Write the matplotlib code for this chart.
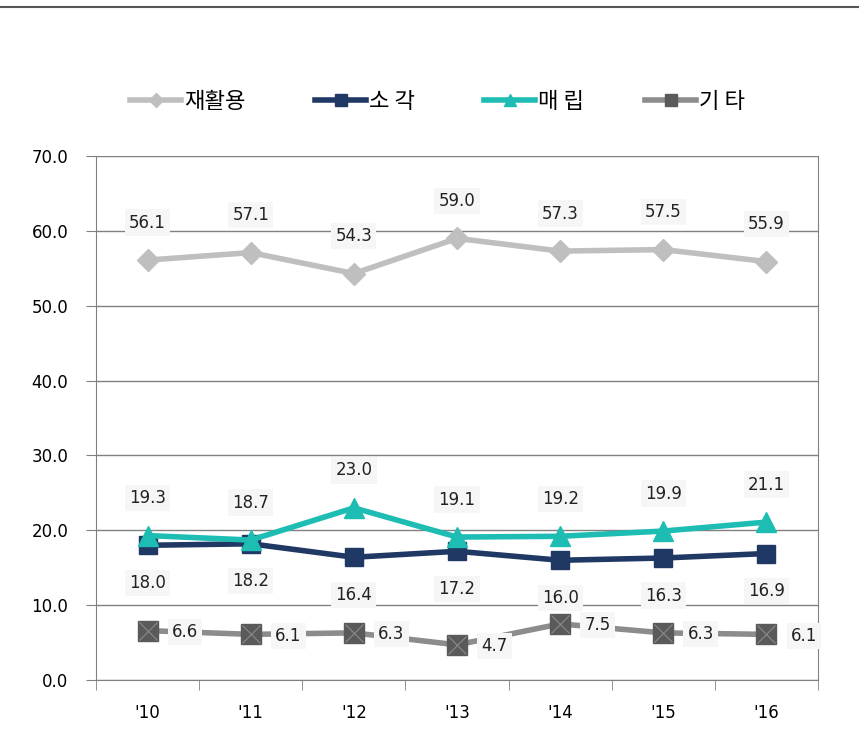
#!/usr/bin/env python3
"""Waste treatment share by method, '10-'16."""

import matplotlib

matplotlib.use("Agg")
import matplotlib.pyplot as plt
from matplotlib.lines import Line2D
import numpy as np

years = ["'10", "'11", "'12", "'13", "'14", "'15", "'16"]
series_names = ["재활용", "소 각", "매 립", "기 타"]
recycle = [56.1, 57.1, 54.3, 59.0, 57.3, 57.5, 55.9]
incinerate = [18.0, 18.2, 16.4, 17.2, 16.0, 16.3, 16.9]
landfill = [19.3, 18.7, 23.0, 19.1, 19.2, 19.9, 21.1]
other = [6.6, 6.1, 6.3, 4.7, 7.5, 6.3, 6.1]

plt.rcParams["font.family"] = ["DejaVu Sans", "Noto Sans CJK KR"]

fig = plt.figure(figsize=(8.59, 7.53), dpi=100)
ax = fig.add_axes([0.1118, 0.0969, 0.8405, 0.6959])

x = np.arange(len(years))
box = dict(boxstyle="square,pad=0.25", facecolor="#f6f6f6", edgecolor="none")

ax.plot(x, recycle, color="#bfbfbf", lw=4, marker="D", ms=11,
        label=series_names[0], zorder=3)
ax.plot(x, incinerate, color="#1f3864", lw=4, marker="s", ms=13,
        label=series_names[1], zorder=4)
ax.plot(x, landfill, color="#1dbdb3", lw=4, marker="^", ms=14,
        label=series_names[2], zorder=5)
ax.plot(x, other, color="#8c8c8c", lw=4, zorder=3)
ax.plot(x, other, ls="none", marker="s", ms=15, color="#5a5a5a",
        markeredgecolor="#5a5a5a", zorder=3)
ax.plot(x, other, ls="none", marker="x", ms=13, mew=0.8, color="#8a8a8a",
        zorder=3)

lbl_kw = dict(fontsize=12, color="#222222", ha="center", va="center",
              bbox=box, zorder=6)
off = 27
for i in x:
    ax.annotate(f"{recycle[i]:.1f}", (i, recycle[i]), xytext=(0, off),
                textcoords="offset points", **lbl_kw)
    ax.annotate(f"{incinerate[i]:.1f}", (i, incinerate[i]), xytext=(0, -off),
                textcoords="offset points", **lbl_kw)
    ax.annotate(f"{landfill[i]:.1f}", (i, landfill[i]), xytext=(0, off),
                textcoords="offset points", **lbl_kw)
    ax.annotate(f"{other[i]:.1f}", (i, other[i]), xytext=(off, -1),
                textcoords="offset points", **lbl_kw)

ax.set_xlim(-0.5, len(years) - 0.5)
ax.set_ylim(0, 70)
ax.set_yticks(np.arange(0, 71, 10))
ax.set_yticklabels([f"{v:.1f}" for v in np.arange(0, 71, 10)], fontsize=12)
ax.set_xticks(x)
ax.set_xticklabels(years, fontsize=12)
ax.set_xticks(np.arange(-0.5, len(years), 1), minor=True)
ax.tick_params(axis="x", which="major", length=0, pad=17)
ax.tick_params(axis="x", which="minor", length=7, color="#808080",
               direction="out")
ax.tick_params(axis="y", length=7, color="#808080", direction="out", pad=13)
ax.yaxis.grid(True, color="#808080", lw=1)
ax.set_axisbelow(True)
for side in ["left", "bottom", "right"]:
    ax.spines[side].set_color("#808080")
ax.spines["top"].set_visible(False)

handles = [
    Line2D([], [], color="#bfbfbf", lw=4, marker="D", ms=7),
    Line2D([], [], color="#1f3864", lw=4, marker="s", ms=9),
    Line2D([], [], color="#1dbdb3", lw=4, marker="^", ms=9),
    Line2D([], [], color="#8c8c8c", lw=4, marker="s", ms=9,
           markerfacecolor="#5a5a5a", markeredgecolor="#5a5a5a"),
]
legend_x = [130, 315, 484, 645]
for h, name, lx in zip(handles, series_names, legend_x):
    leg = fig.legend([h], [name], loc="center left",
                     bbox_to_anchor=(lx / 859, 1 - 101 / 753),
                     frameon=False, borderpad=0, borderaxespad=0,
                     handlelength=2.3, handletextpad=0.15,
                     prop={"family": ["Noto Sans CJK KR"], "size": 16})

fig.add_artist(Line2D([0, 1], [0.991, 0.991], color="#555555", lw=1.5,
                      transform=fig.transFigure))

fig.savefig("out.png", dpi=100)
